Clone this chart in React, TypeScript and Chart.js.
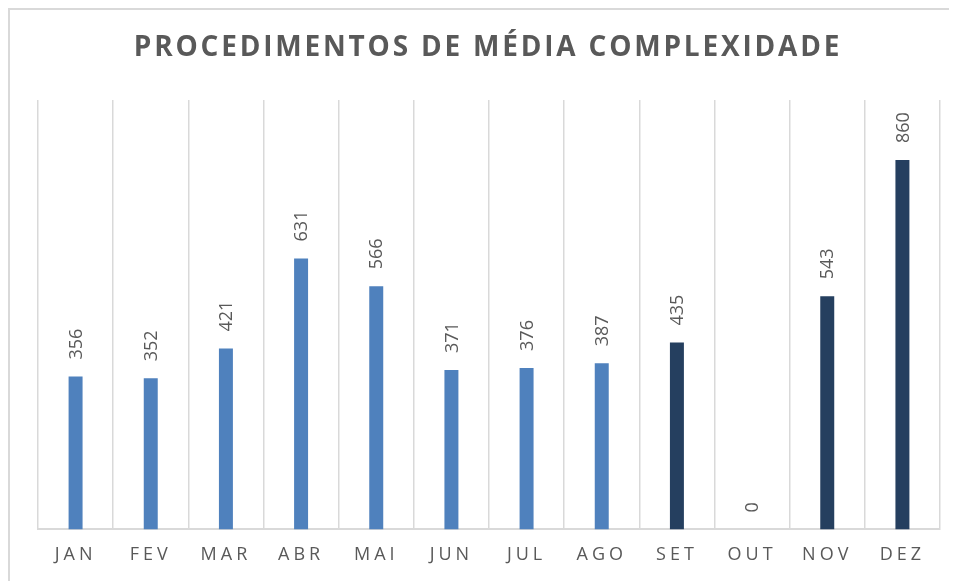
import React, { useEffect, useRef } from "react";
import { Chart, registerables } from "chart.js";

Chart.register(...registerables);

const TITLE = "PROCEDIMENTOS DE MÉDIA COMPLEXIDADE";
const MONTHS = ["JAN", "FEV", "MAR", "ABR", "MAI", "JUN", "JUL", "AGO", "SET", "OUT", "NOV", "DEZ"];
const VALUES = [356, 352, 421, 631, 566, 371, 376, 387, 435, 0, 543, 860];
const Y_MAX = 1000;

const LIGHT = "#4F81BD";
const DARK = "#253F5F";
const GRID = "#D9D9D9";
const TEXT = "#595959";
const FONT = "'Open Sans', 'DejaVu Sans', sans-serif";

const styling = {
  id: "styling",
  beforeDraw(chart: any) {
    chart.ctx.letterSpacing = "4px";
  },
  afterDatasetsDraw(chart: any) {
    const ctx = chart.ctx;
    const meta = chart.getDatasetMeta(0);
    ctx.save();
    ctx.letterSpacing = "0px";
    ctx.fillStyle = TEXT;
    ctx.font = `18px ${FONT}`;
    ctx.textAlign = "left";
    ctx.textBaseline = "middle";
    meta.data.forEach((bar: any, i: number) => {
      const v = VALUES[i];
      ctx.save();
      ctx.translate(bar.x + 1, bar.y - 17);
      ctx.rotate(-Math.PI / 2);
      ctx.fillText(String(v), 0, 0);
      ctx.restore();
    });
    ctx.restore();
  },
  afterDraw(chart: any) {
    const ctx = chart.ctx;
    ctx.save();
    ctx.letterSpacing = "2.8px";
    ctx.fillStyle = TEXT;
    ctx.font = `bold 28px ${FONT}`;
    ctx.textAlign = "center";
    ctx.textBaseline = "middle";
    ctx.fillText(TITLE, chart.width / 2, 38);
    ctx.restore();
  },
};

export default function App() {
  const ref = useRef<HTMLCanvasElement>(null);
  useEffect(() => {
    if (!ref.current) return;
    const chart = new Chart(ref.current, {
      type: "bar",
      data: {
        labels: MONTHS,
        datasets: [
          {
            data: VALUES,
            backgroundColor: (c: any) => (c.dataIndex < 8 ? LIGHT : DARK),
            barPercentage: 0.186,
            categoryPercentage: 1,
          },
        ],
      },
      options: {
        animation: false,
        responsive: true,
        maintainAspectRatio: false,
        layout: { padding: { left: 28, right: 26, top: 90, bottom: 5 } },
        plugins: {
          legend: { display: false },
          title: { display: false },
          tooltip: { enabled: false },
        },
        scales: {
          x: {
            grid: { color: GRID, lineWidth: 1.5, offset: true, drawTicks: false },
            border: { color: GRID, width: 2 },
            ticks: {
              color: TEXT,
              font: { family: FONT, size: 18 },
              padding: 15,
              maxRotation: 0,
              autoSkip: false,
            },
          },
          y: {
            display: false,
            min: 0,
            max: Y_MAX,
          },
        },
      },
      plugins: [styling],
    });
    return () => chart.destroy();
  }, []);
  return (
    <div
      style={{
        width: 960,
        height: 580,
        border: "2px solid #D9D9D9",
        boxSizing: "border-box",
        position: "relative",
        background: "#fff",
      }}
    >
      <div style={{ position: "absolute", left: 0, top: 0, width: 956, height: 576 }}>
        <canvas ref={ref} />
      </div>
    </div>
  );
}
